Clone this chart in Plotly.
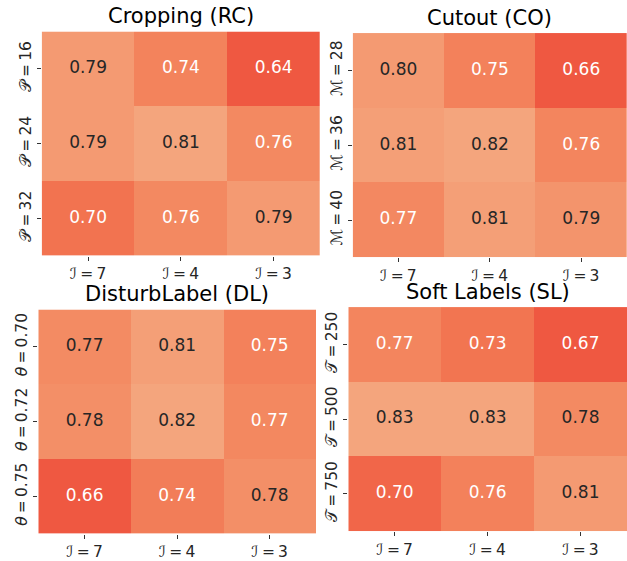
import plotly.graph_objects as go

# ---- data ----
SP = "\u2009"
x_labels = [f"ℐ{SP}={SP}7", f"ℐ{SP}={SP}4", f"ℐ{SP}={SP}3"]

rc_title = "Cropping (RC)"
rc_rows = [f"𝒫{SP}={SP}16", f"𝒫{SP}={SP}24", f"𝒫{SP}={SP}32"]
rc_vals = [[0.79, 0.74, 0.64], [0.79, 0.81, 0.756], [0.70, 0.756, 0.79]]

co_title = "Cutout (CO)"
co_rows = [f"ℳ{SP}={SP}28", f"ℳ{SP}={SP}36", f"ℳ{SP}={SP}40"]
co_vals = [[0.80, 0.75, 0.66], [0.81, 0.82, 0.76], [0.768, 0.81, 0.79]]

dl_title = "DisturbLabel (DL)"
dl_rows = [f"<i>θ</i>{SP}={SP}0.70", f"<i>θ</i>{SP}={SP}0.72", f"<i>θ</i>{SP}={SP}0.75"]
dl_vals = [[0.774, 0.81, 0.75], [0.78, 0.82, 0.766], [0.66, 0.74, 0.78]]

sl_title = "Soft Labels (SL)"
sl_rows = [f"𝒯{SP}={SP}250", f"𝒯{SP}={SP}500", f"𝒯{SP}={SP}750"]
sl_vals = [[0.77, 0.73, 0.67], [0.83, 0.83, 0.782], [0.70, 0.76, 0.81]]

# ---- style ----
colorscale = [[0.0, "#EF5841"], [0.35, "#F27350"], [0.7, "#F38A62"], [1.0, "#F4A57D"]]
FONT = "DejaVu Sans"
W, H = 627, 561

panels = [
    (rc_title, rc_rows, rc_vals, (41.7, 320, 31.7, 257.7)),
    (co_title, co_rows, co_vals, (352.7, 627, 33.3, 259.3)),
    (dl_title, dl_rows, dl_vals, (38.3, 316, 311.7, 537.7)),
    (sl_title, sl_rows, sl_vals, (348.3, 627, 309.3, 535)),
]

fig = go.Figure()
annotations = []
for i, (title, rows, vals, (x0, x1, y0, y1)) in enumerate(panels):
    n = i + 1
    xa = "x" if n == 1 else f"x{n}"
    ya = "y" if n == 1 else f"y{n}"
    flat = [v for r in vals for v in r]
    vmin, vmax = min(flat), max(flat)
    fig.add_trace(go.Heatmap(
        z=vals, x=x_labels, y=rows, colorscale=colorscale,
        zmin=vmin, zmax=vmax, showscale=False, hoverinfo="skip",
        xaxis=xa, yaxis=ya,
    ))
    tx, ty, tt, tc = [], [], [], []
    for r, row in zip(rows, vals):
        for c, v in zip(x_labels, row):
            t = (v - vmin) / (vmax - vmin)
            tx.append(c)
            ty.append(r)
            tt.append(f"{v:.2f}")
            tc.append("white" if t < 0.69 else "#262626")
    fig.add_trace(go.Scatter(
        x=tx, y=ty, text=tt, mode="text",
        textfont=dict(family=FONT, size=17, color=tc),
        hoverinfo="skip", showlegend=False, xaxis=xa, yaxis=ya,
    ))
    xdom = [x0 / W, x1 / W]
    ydom = [1 - y1 / H, 1 - y0 / H]
    axis_common = dict(ticks="outside", ticklen=4, tickwidth=1, tickcolor="#333333",
                       showgrid=False, zeroline=False, showline=False,
                       tickfont=dict(family=FONT, size=15.5, color="#262626"))
    fig.layout[f"xaxis{'' if n == 1 else n}"] = dict(domain=xdom, anchor=ya, **axis_common)
    fig.layout[f"yaxis{'' if n == 1 else n}"] = dict(domain=ydom, anchor=xa, autorange="reversed",
                                                    tickangle=-90, **axis_common)
    annotations.append(dict(
        text=title, x=(xdom[0] + xdom[1]) / 2, y=ydom[1], xref="paper", yref="paper",
        xanchor="center", yanchor="bottom", yshift=1, showarrow=False,
        font=dict(family=FONT, size=21, color="#000000"),
    ))

fig.update_layout(
    width=W, height=H, margin=dict(l=0, r=0, t=0, b=0),
    paper_bgcolor="white", plot_bgcolor="white",
    annotations=annotations, showlegend=False,
)
fig.write_html("out.html", config={"displayModeBar": False},
               post_script="document.body.style.margin='0';document.body.style.overflow='hidden';")
